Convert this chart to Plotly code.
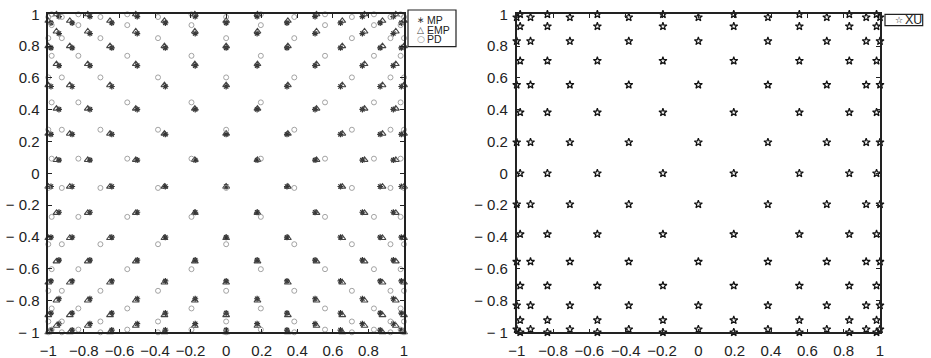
import plotly.graph_objs as go

# node values (columns / rows of each point family)
mp_x_a = [0.985, 0.866, 0.643, 0.342, 0, -0.342, -0.643, -0.866, -0.985]
mp_y_a = [0.946, 0.789, 0.546, 0.245, -0.083, -0.402, -0.677, -0.879, -0.986]
mp_x_b = [0.940, 0.766, 0.5, 0.174, -0.174, -0.5, -0.766, -0.940]
mp_y_b = [0.986, 0.879, 0.677, 0.402, 0.083, -0.245, -0.546, -0.789, -0.946]

emp_x_a = [1, 0.879, 0.653, 0.347, 0, -0.347, -0.653, -0.879, -1]
emp_y_a = [0.959, 0.800, 0.554, 0.249, -0.084, -0.407, -0.687, -0.892, -1]
emp_x_b = [0.954, 0.778, 0.508, 0.176, -0.176, -0.508, -0.778, -0.954]
emp_y_b = [1, 0.892, 0.687, 0.407, 0.084, -0.249, -0.554, -0.800, -0.959]

pd_x_a = [1, 0.924, 0.707, 0.383, 0, -0.383, -0.707, -0.924, -1]
pd_y_a = [0.983, 0.850, 0.603, 0.274, -0.092, -0.446, -0.739, -0.932, -1]
pd_x_b = [0.981, 0.831, 0.556, 0.195, -0.195, -0.556, -0.831, -0.981]
pd_y_b = [1, 0.932, 0.739, 0.446, 0.092, -0.274, -0.603, -0.850, -0.983]

xu_x_a = [1, 0.924, 0.707, 0.383, 0, -0.383, -0.707, -0.924, -1]
xu_y_a = [0.981, 0.831, 0.556, 0.195, -0.195, -0.556, -0.831, -0.981]
xu_x_b = [0.981, 0.831, 0.556, 0.195, -0.195, -0.556, -0.831, -0.981]
xu_y_b = [1, 0.924, 0.707, 0.383, 0, -0.383, -0.707, -0.924, -1]

ticks = [-1, -0.8, -0.6, -0.4, -0.2, 0, 0.2, 0.4, 0.6, 0.8, 1]
x_tick_labels = ['\u22121', '\u22120.8', '\u22120.6', '\u22120.4', '\u22120.2',
                 '0', '0.2', '0.4', '0.6', '0.8', '1']
y_tick_labels = ['\u2212 1', '\u2212 0.8', '\u2212 0.6', '\u2212 0.4', '\u2212 0.2',
                 '0', '0.2', '0.4', '0.6', '0.8', '1']

W, H = 931, 358
FONT = 'Liberation Sans, Arial, sans-serif'


def grid(xs_a, ys_a, xs_b, ys_b):
    xs, ys = [], []
    for cols, rows in ((xs_a, ys_a), (xs_b, ys_b)):
        for x in cols:
            for y in rows:
                xs.append(x)
                ys.append(y)
    return xs, ys


def add_points(fig, pts, name, symbol, size, color, width, axes):
    fig.add_trace(go.Scatter(x=pts[0], y=pts[1], mode='markers', name=name,
                             xaxis=axes[0], yaxis=axes[1], cliponaxis=False,
                             showlegend=False, hoverinfo='skip',
                             marker=dict(symbol=symbol, size=size, color=color,
                                         line=dict(color=color, width=width))))


def axis(domain, labels, anchor):
    return dict(domain=domain, range=[-1, 1], anchor=anchor, tickvals=ticks,
                ticktext=labels, ticks='inside', ticklen=4, tickwidth=1,
                tickcolor='#222', showline=True, linecolor='#222', linewidth=1.5,
                mirror='ticks', showgrid=False, zeroline=False, automargin=False,
                tickfont=dict(family=FONT, size=15, color='#222'),
                ticklabelstandoff=4)


fig = go.Figure()
add_points(fig, grid(mp_x_a, mp_y_a, mp_x_b, mp_y_b), 'MP', 'asterisk-open', 5, '#333', 1.2, ('x', 'y'))
add_points(fig, grid(emp_x_a, emp_y_a, emp_x_b, emp_y_b), 'EMP', 'triangle-up-open', 6, '#444', 1.1, ('x', 'y'))
add_points(fig, grid(pd_x_a, pd_y_a, pd_x_b, pd_y_b), 'PD', 'circle-open', 5, '#999', 0.9, ('x', 'y'))
add_points(fig, grid(xu_x_a, xu_y_a, xu_x_b, xu_y_b), 'XU', 'star-open', 6, '#111', 1.2, ('x2', 'y2'))

ydom = [1 - 332.3 / H, 1 - 14.3 / H]
fig.update_layout(
    width=W, height=H, margin=dict(l=0, r=0, t=0, b=0, autoexpand=False),
    template='none', paper_bgcolor='white', plot_bgcolor='white',
    xaxis=axis([48.3 / W, 404 / W], x_tick_labels, 'y'),
    yaxis=axis(ydom, y_tick_labels, 'x'),
    xaxis2=axis([516.7 / W, 880 / W], x_tick_labels, 'y2'),
    yaxis2=axis(ydom, y_tick_labels, 'x2'),
)

# legends drawn as boxes with text entries
legend_left = [('\u2217', 'MP', '#333'), ('\u25b3', 'EMP', '#444'), ('\u25cb', 'PD', '#999')]
fig.add_shape(type='rect', xref='paper', yref='paper', x0=408 / W, x1=456 / W,
              y0=1 - 46.7 / H, y1=1 - 10 / H, line=dict(color='#222', width=1.2))
for i, (sym, label, col) in enumerate(legend_left):
    yy = 1 - (20 + 9.7 * i) / H
    fig.add_annotation(x=420.5 / W, y=yy, xref='paper', yref='paper', text=sym,
                       showarrow=False, xanchor='center', yanchor='middle', borderpad=0,
                       font=dict(family='DejaVu Sans', size=9, color=col))
    fig.add_annotation(x=426 / W, y=yy, xref='paper', yref='paper', text=label,
                       showarrow=False, xanchor='left', yanchor='middle', borderpad=0,
                       font=dict(family=FONT, size=10.5, color='#222'))

fig.add_shape(type='rect', xref='paper', yref='paper', x0=885 / W, x1=922.7 / W,
              y0=1 - 25.7 / H, y1=1 - 14.3 / H, line=dict(color='#222', width=1.2))
fig.add_annotation(x=898.5 / W, y=1 - 20 / H, xref='paper', yref='paper', text='\u2606',
                   showarrow=False, xanchor='center', yanchor='middle',
                   font=dict(family='DejaVu Sans', size=9, color='#111'))
fig.add_annotation(x=903 / W, y=1 - 20 / H, xref='paper', yref='paper', text='XU',
                   showarrow=False, xanchor='left', yanchor='middle',
                   font=dict(family=FONT, size=12.5, color='#222'))

# page body has a default margin; drop it so the figure sits at the window corner
fig.write_html("out.html", config={'displayModeBar': False},
               post_script="document.body.style.margin='0';")
